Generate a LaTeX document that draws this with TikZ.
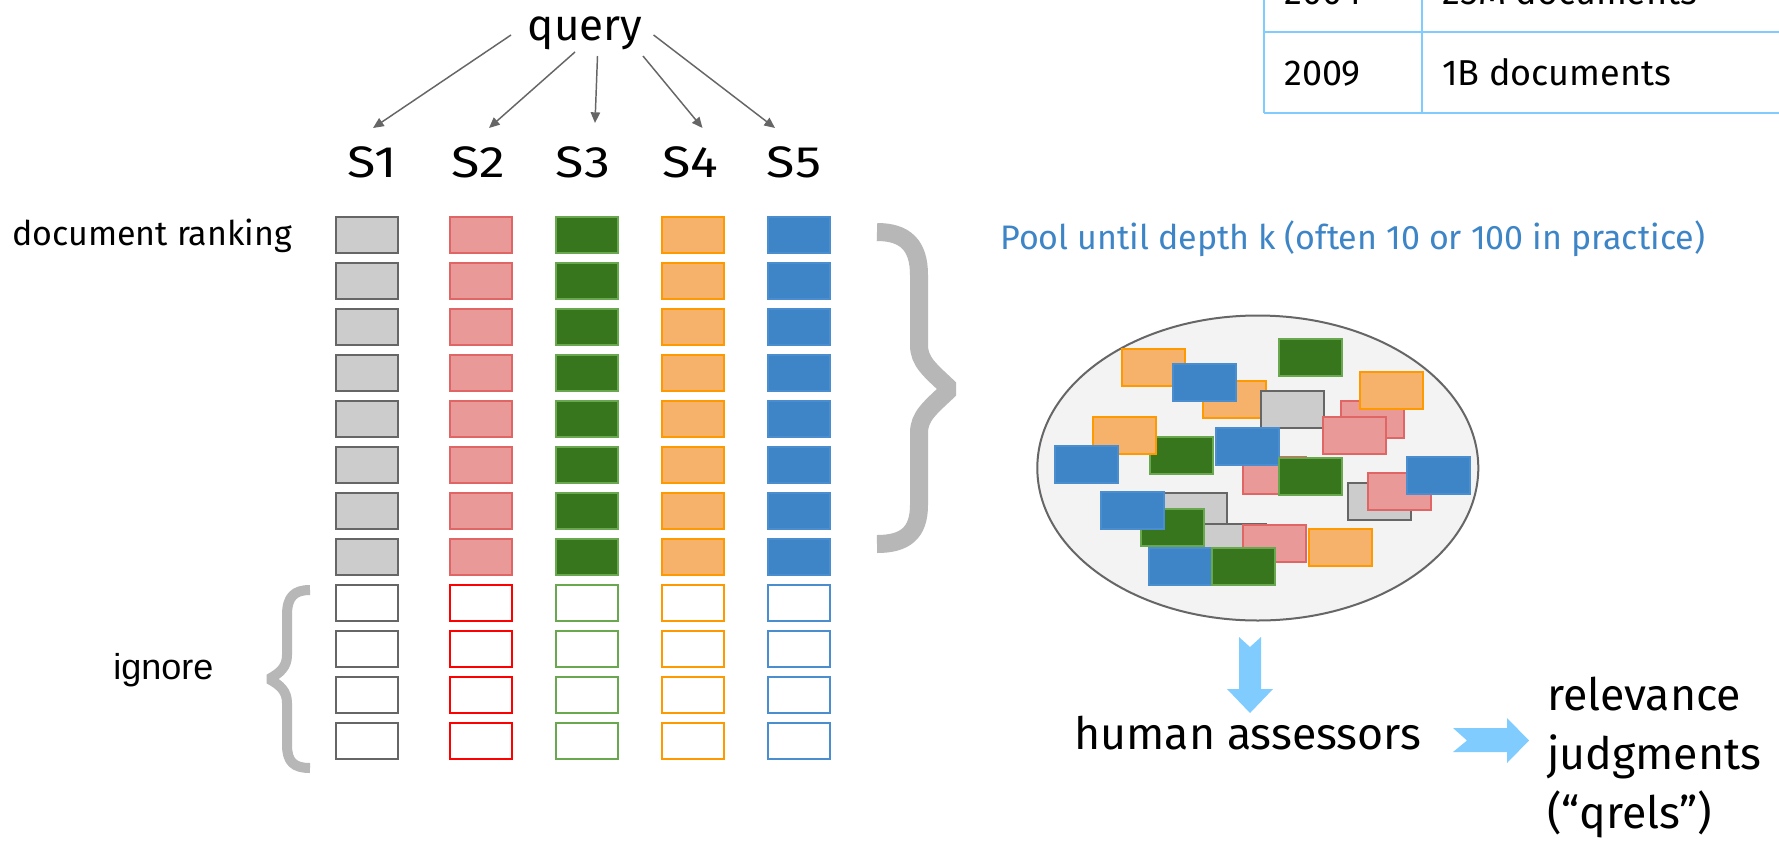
\documentclass[tikz,border=0pt]{standalone}
\usepackage{fontspec}
\setmainfont{Fira Sans}
\newfontfamily\arialfont{Liberation Sans}
\usetikzlibrary{arrows.meta}
\definecolor{grayfill}{HTML}{CCCCCC}
\definecolor{graydraw}{HTML}{666666}
\definecolor{pinkfill}{HTML}{EA9999}
\definecolor{pinkdraw}{HTML}{E06666}
\definecolor{greenfill}{HTML}{38761D}
\definecolor{greendraw}{HTML}{6AA84F}
\definecolor{orangefill}{HTML}{F6B26B}
\definecolor{orangedraw}{HTML}{FF9900}
\definecolor{bluefill}{HTML}{3D85C6}
\definecolor{bluedraw}{HTML}{4A8ED0}
\definecolor{reddraw}{HTML}{FF0000}
\definecolor{lightblue}{HTML}{80CCFF}
\definecolor{bracegray}{HTML}{B7B7B7}
\definecolor{poolblue}{HTML}{3D85C6}
\definecolor{ellfill}{HTML}{F3F3F3}
\newcommand\fsz[1]{\fontsize{#1}{#1}\selectfont}
\newcommand\poolrect[3]{\draw[#1] (#2,#3) rectangle ++(63,37);}
\newcommand\wide[1]{\scalebox{1.18}[1]{#1}}
\tikzset{
  lbl/.style={inner sep=0pt, anchor=base west},
  lblc/.style={inner sep=0pt, anchor=base},
  rank/.style={draw, line width=1.5pt, minimum width=46.7pt, minimum height=27.2pt, inner sep=0pt},
  fg/.style={rank, fill=grayfill, draw=graydraw},
  fp/.style={rank, fill=pinkfill, draw=pinkdraw},
  fgr/.style={rank, fill=greenfill, draw=greendraw},
  fo/.style={rank, fill=orangefill, draw=orangedraw},
  fb/.style={rank, fill=bluefill, draw=bluedraw},
  eg/.style={rank, fill=white, draw=graydraw},
  ep/.style={rank, fill=white, draw=reddraw},
  egr/.style={rank, fill=white, draw=greendraw},
  eo/.style={rank, fill=white, draw=orangedraw},
  eb/.style={rank, fill=white, draw=bluedraw},
  pg/.style={line width=1.5pt, fill=grayfill, draw=graydraw},
  pp/.style={line width=1.5pt, fill=pinkfill, draw=pinkdraw},
  pgr/.style={line width=1.5pt, fill=greenfill, draw=greendraw},
  po/.style={line width=1.5pt, fill=orangefill, draw=orangedraw},
  pb/.style={line width=1.5pt, fill=bluefill, draw=bluedraw},
  qarrow/.style={draw=graydraw, line width=1.1pt, -{Triangle[length=8pt,width=7pt]}},
  bracestyle/.style={draw=bracegray, line cap=butt, line join=bevel},
  fatarrow/.style={fill=lightblue, draw=none},
  tableline/.style={draw=lightblue, line width=1.6pt},
}
\begin{document}
\begin{tikzpicture}[x=0.75pt,y=-0.75pt]
\clip (0,0) rectangle (1779,840);
\fill[white] (0,0) rectangle (1779,840);

% table
\draw[tableline] (1264,-60) -- (1264,113);
\draw[tableline] (1422,-60) -- (1422,113);
\draw[tableline] (1264,32) -- (1800,32);
\draw[tableline] (1264,113) -- (1800,113);
\node[lbl] (t04) at (1284,4) {\fsz{27pt}2004};
\node[lbl] (t25) at (1442,4) {\fsz{27pt}25M documents};
\node[lbl] (t09) at (1284,85) {\fsz{27pt}2009};
\node[lbl] (t1b) at (1442,85) {\fsz{27pt}1B documents};

% query and systems
\node[lblc] (query) at (585,40) {\fsz{33pt}query};
\node[lblc] (S1) at (372,177) {\fsz{33pt}\wide{S1}};
\node[lblc] (S2) at (478,177) {\fsz{33pt}\wide{S2}};
\node[lblc] (S3) at (583,177) {\fsz{33pt}\wide{S3}};
\node[lblc] (S4) at (690,177) {\fsz{33pt}\wide{S4}};
\node[lblc] (S5) at (794,177) {\fsz{33pt}\wide{S5}};
\coordinate (q1) at (511,35);  \coordinate (e1) at (373,128);
\coordinate (q2) at (575,52);  \coordinate (e2) at (489,128);
\coordinate (q3) at (597.5,56);\coordinate (e3) at (595,123);
\coordinate (q4) at (643,56);  \coordinate (e4) at (702.5,128);
\coordinate (q5) at (653.6,35);\coordinate (e5) at (775,128);
\draw[qarrow] (q1) -- (e1);
\draw[qarrow] (q2) -- (e2);
\draw[qarrow] (q3) -- (e3);
\draw[qarrow] (q4) -- (e4);
\draw[qarrow] (q5) -- (e5);

% labels
\node[lbl] (docrank) at (12,245) {\fsz{25.5pt}document ranking};
\node[lbl] (ignore) at (113,679) {\arialfont\fsz{27pt}ignore};

% ranking boxes
\foreach \c/\x/\fs/\es in {1/367/fg/eg, 2/480.75/fp/ep, 3/587/fgr/egr, 4/693.25/fo/eo, 5/799/fb/eb}{
  \foreach \r in {0,...,7}{\node[\fs] (b\c-\r) at (\x,{234.7+46*\r}) {};}
  \foreach \r in {8,...,11}{\node[\es] (b\c-\r) at (\x,{234.7+46*\r}) {};}
}

% braces
\draw[bracestyle, line width=13.5pt] (877,232) .. controls (905,232) and (919,245) .. (919,275) -- (919,345) .. controls (919,362) and (930,370) .. (950,389) .. controls (930,408) and (919,416) .. (919,433) -- (919,505) .. controls (919,533) and (905,544) .. (877,544);
\draw[bracestyle, line width=7.5pt] (310,590) .. controls (294,590) and (287,597) .. (287,615) -- (287,655) .. controls (287,667) and (280,673) .. (269,679) .. controls (280,685) and (287,691) .. (287,703) -- (287,745) .. controls (287,762) and (294,768) .. (310,768);

% pool text
\node[lbl, text=poolblue] (pooltext) at (1000,249) {\fsz{25.5pt}Pool until depth k (often 10 or 100 in practice)};

% pool ellipse
\draw[draw=graydraw, fill=ellfill, line width=1.5pt] (1257.8,468) ellipse [x radius=220.5, y radius=152.5];
\poolrect{po}{1121.7}{348.7}
\poolrect{po}{1202.7}{380.7}
\poolrect{pb}{1173.3}{364.3}
\poolrect{pgr}{1278.7}{338.7}
\poolrect{pg}{1261}{390.7}
\poolrect{pp}{1340.7}{400.7}
\poolrect{po}{1359.7}{371.7}
\poolrect{pp}{1322.7}{416.7}
\poolrect{pgr}{1150}{436.7}
\poolrect{po}{1092.7}{416.7}
\poolrect{pb}{1055.3}{446}
\poolrect{pp}{1243.3}{457.3}
\poolrect{pb}{1216.3}{428.3}
\poolrect{pgr}{1278.7}{457.7}
\poolrect{pg}{1348}{482.7}
\poolrect{pp}{1367.7}{472.7}
\poolrect{pb}{1407.3}{457.3}
\poolrect{pg}{1164}{492.7}
\poolrect{pg}{1202.7}{524}
\poolrect{pgr}{1140.7}{508.7}
\poolrect{pb}{1101.3}{492.3}
\poolrect{pp}{1243.3}{524.7}
\poolrect{po}{1308.7}{528.7}
\poolrect{pb}{1149.3}{548.3}
\poolrect{pgr}{1212}{548.3}

% fat arrows
\fill[fatarrow] (1239,637) -- (1250,647) -- (1261,637) -- (1261,689) -- (1273,689) -- (1250,713) -- (1227,689) -- (1239,689) -- cycle;
\fill[fatarrow] (1453,728) -- (1507,728) -- (1507,718) -- (1529,740.5) -- (1507,763) -- (1507,752) -- (1453,752) -- (1467,740.5) -- cycle;

% result texts
\node[lbl] (human) at (1074,749) {\fsz{33.5pt}human assessors};
\node[lbl] (rel1) at (1547,710) {\fsz{33.5pt}relevance};
\node[lbl] (rel2) at (1547,769) {\fsz{33.5pt}judgments};
\node[lbl] (rel3) at (1547,828) {\fsz{33.5pt}(“qrels”)};
\end{tikzpicture}
\end{document}
